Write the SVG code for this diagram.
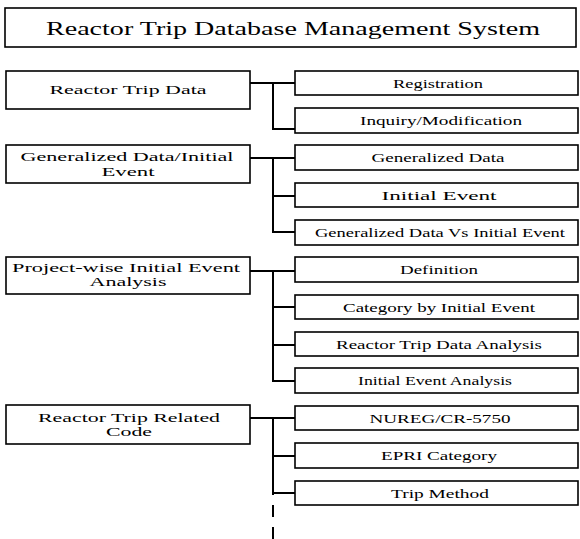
<svg xmlns="http://www.w3.org/2000/svg" width="580" height="539" viewBox="0 0 580 539">
<style>
rect{fill:#fff;stroke:#000;stroke-width:1.6}
text{font-family:'Liberation Serif','Times New Roman',serif;fill:#000;text-anchor:middle;font-size:13.5px}
.t{font-size:19px}
.c{fill:none;stroke:#000;stroke-width:2}
</style>
<rect width="580" height="539" style="stroke:none"/>
<g id="title"><rect x="5" y="8" width="571" height="39"/><text class="t" x="293" y="35" textLength="494" lengthAdjust="spacingAndGlyphs">Reactor Trip Database Management System</text></g>

<g id="connectors">
<path class="c" d="M250 83H273V129H295M273 83H295"/>
<path class="c" d="M250 158H273V232H295M273 158H295M273 196H295"/>
<path class="c" d="M250 271H273V381H295M273 271H295M273 307H295M273 345H295"/>
<path class="c" d="M250 418H273V495M273 418H295M273 456H295M273 493H295"/>
<path class="c" d="M273 505V539" stroke-dasharray="12 10"/>
</g>

<g id="n1"><rect x="6" y="71" width="244" height="38"/><text x="128" y="94" textLength="157" lengthAdjust="spacingAndGlyphs">Reactor Trip Data</text></g>
<g id="n1a"><rect x="295" y="71" width="283" height="24"/><text x="438" y="87.5" textLength="90" lengthAdjust="spacingAndGlyphs">Registration</text></g>
<g id="n1b"><rect x="295" y="108" width="283" height="25"/><text x="441" y="125" textLength="162" lengthAdjust="spacingAndGlyphs">Inquiry/Modification</text></g>

<g id="n2"><rect x="6" y="145" width="244" height="38"/><text x="127" y="161" textLength="213" lengthAdjust="spacingAndGlyphs">Generalized Data/Initial</text><text x="128" y="176" textLength="53" lengthAdjust="spacingAndGlyphs">Event</text></g>
<g id="n2a"><rect x="295" y="145" width="283" height="25"/><text x="438" y="162" textLength="133" lengthAdjust="spacingAndGlyphs">Generalized Data</text></g>
<g id="n2b"><rect x="295" y="183" width="283" height="24"/><text x="439" y="199.5" textLength="115" lengthAdjust="spacingAndGlyphs">Initial Event</text></g>
<g id="n2c"><rect x="295" y="220" width="283" height="25"/><text x="440" y="237" textLength="250" lengthAdjust="spacingAndGlyphs">Generalized Data Vs Initial Event</text></g>

<g id="n3"><rect x="6" y="257" width="244" height="37"/><text x="126" y="272" textLength="228" lengthAdjust="spacingAndGlyphs">Project-wise Initial Event</text><text x="128" y="286" textLength="77" lengthAdjust="spacingAndGlyphs">Analysis</text></g>
<g id="n3a"><rect x="295" y="257" width="283" height="25"/><text x="439" y="274" textLength="78" lengthAdjust="spacingAndGlyphs">Definition</text></g>
<g id="n3b"><rect x="295" y="295" width="283" height="24"/><text x="439" y="311.5" textLength="192" lengthAdjust="spacingAndGlyphs">Category by Initial Event</text></g>
<g id="n3c"><rect x="295" y="332" width="283" height="24"/><text x="439" y="348.5" textLength="206" lengthAdjust="spacingAndGlyphs">Reactor Trip Data Analysis</text></g>
<g id="n3d"><rect x="295" y="368" width="283" height="25"/><text x="435" y="385" textLength="154" lengthAdjust="spacingAndGlyphs">Initial Event Analysis</text></g>

<g id="n4"><rect x="6" y="405" width="244" height="39"/><text x="129" y="422" textLength="182" lengthAdjust="spacingAndGlyphs">Reactor Trip Related</text><text x="129" y="436" textLength="46" lengthAdjust="spacingAndGlyphs">Code</text></g>
<g id="n4a"><rect x="295" y="406" width="283" height="24"/><text x="440" y="422.5" textLength="141" lengthAdjust="spacingAndGlyphs">NUREG/CR-5750</text></g>
<g id="n4b"><rect x="295" y="443" width="283" height="25"/><text x="439" y="460" textLength="116" lengthAdjust="spacingAndGlyphs">EPRI Category</text></g>
<g id="n4c"><rect x="295" y="481" width="283" height="24"/><text x="440" y="497.5" textLength="98" lengthAdjust="spacingAndGlyphs">Trip Method</text></g>
</svg>
